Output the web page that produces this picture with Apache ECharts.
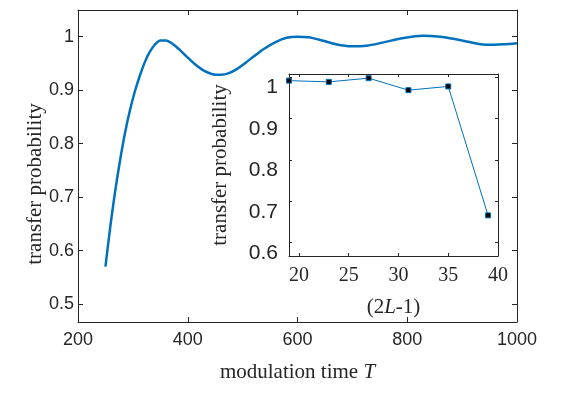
<!DOCTYPE html>
<html>
<head>
<meta charset="utf-8">
<title>transfer probability</title>
<script src="https://cdn.jsdelivr.net/npm/echarts@6/dist/echarts.min.js"></script>
<style>
    html, body { margin: 0; padding: 0; background: #fff; }
    #chart1 { width: 576px; height: 396px; }
</style>
</head>
<body>
<div id="chart1"></div>
<script>
    // main curve: modulation time T -> transfer probability
    var timeT = [250, 259, 268, 277, 286, 295, 304, 313, 322, 331, 340, 350, 360, 372, 386, 400, 415, 430, 445, 460,
                 475, 490, 505, 520, 540, 560, 580, 600, 620, 645, 670, 698, 725, 755, 790, 828, 860, 895, 944, 975, 1000];
    var probT = [0.570, 0.646, 0.713, 0.771, 0.822, 0.864, 0.899, 0.928, 0.953, 0.972, 0.985, 0.993, 0.993, 0.987, 0.975, 0.961, 0.947, 0.936, 0.930, 0.929,
                 0.932, 0.940, 0.951, 0.963, 0.978, 0.990, 0.998, 1.000, 0.999, 0.993, 0.986, 0.982, 0.983, 0.989, 0.997, 1.002, 1.000, 0.994, 0.985, 0.986, 0.988];

    // inset: (2L-1) -> transfer probability
    var sizeL = [19, 23, 27, 31, 35, 39];
    var probL = [0.991, 0.988, 0.997, 0.968, 0.977, 0.666];

    // tick values
    var mainXTicks = [200, 400, 600, 800, 1000];
    var mainYTicks = [0.5, 0.6, 0.7, 0.8, 0.9, 1];
    var insetXTicks = [20, 25, 30, 35, 40];
    var insetYTicks = [0.6, 0.7, 0.8, 0.9, 1];

    var ink = '#262626';
    var blue = '#0072BD';
    var sans = 'Liberation Sans';
    var serif = 'Liberation Serif';

    function zip(xs, ys) {
        return xs.map(function (x, i) { return [x, ys[i]]; });
    }

    // box axis helper (matlab look: ticks inside, on all four sides)
    function boxAxis(opt, ticks, tickLen, showLabel, labelStyle) {
        var a = {
            type: 'value',
            splitLine: { show: false },
            axisLine: { show: true, onZero: false, lineStyle: { color: ink, width: 1 } },
            axisTick: { show: true, inside: true, length: tickLen, customValues: ticks, lineStyle: { color: ink } },
            axisLabel: showLabel ? Object.assign({
                customValues: ticks, color: ink,
                formatter: function (v) { return String(v); }
            }, labelStyle) : { show: false }
        };
        return Object.assign(a, opt);
    }

    var myChart1 = echarts.init(document.getElementById('chart1'));

    var mainLabel = { fontFamily: sans, fontSize: 18, margin: 4 };
    var mainXLabel = { fontFamily: sans, fontSize: 18, margin: 9 };
    var insetXLabel = { fontFamily: serif, fontSize: 20, margin: 10 };
    var insetYLabel = { fontFamily: sans, fontSize: 21, margin: 11, verticalAlign: 'top' };

    var nameStyle = {
        fontFamily: serif, fontSize: 21, color: ink,
        rich: { i: { fontFamily: serif, fontSize: 21, fontStyle: 'italic', color: ink } }
    };

    myChart1.setOption({
        animation: false,
        grid: [
            { left: 78, right: 59, top: 10, bottom: 74 },
            { left: 289, right: 78, top: 74, bottom: 140, show: true, backgroundColor: '#fff', borderWidth: 0 }
        ],
        xAxis: [
            boxAxis({
                gridIndex: 0, position: 'bottom', min: 200, max: 1000,
                name: 'modulation time {i|T}', nameLocation: 'middle', nameGap: 40,
                nameTextStyle: nameStyle
            }, mainXTicks, 5, true, mainXLabel),
            boxAxis({ gridIndex: 0, position: 'top', min: 200, max: 1000 }, mainXTicks, 5, false),
            boxAxis({
                gridIndex: 1, position: 'bottom', min: 19, max: 40,
                name: '(2{i|L}-1)', nameLocation: 'middle', nameGap: 41,
                nameTextStyle: nameStyle
            }, insetXTicks, 3, true, insetXLabel),
            boxAxis({ gridIndex: 1, position: 'top', min: 19, max: 40 }, insetXTicks, 3, false)
        ],
        yAxis: [
            boxAxis({
                gridIndex: 0, position: 'left', min: 0.4665, max: 1.05,
                name: 'transfer probability', nameLocation: 'middle', nameGap: 32,
                nameMoveOverlap: false,
                nameTextStyle: { fontFamily: serif, fontSize: 21, color: ink, padding: [0, 36, 0, 0] }
            }, mainYTicks, 5, true, mainLabel),
            boxAxis({ gridIndex: 0, position: 'right', min: 0.4665, max: 1.05 }, mainYTicks, 5, false),
            boxAxis({
                gridIndex: 1, position: 'left', min: 0.568, max: 1.007,
                name: 'transfer probability', nameLocation: 'middle', nameGap: 58,
                nameTextStyle: { fontFamily: serif, fontSize: 21, color: ink }
            }, insetYTicks, 3, true, insetYLabel),
            boxAxis({ gridIndex: 1, position: 'right', min: 0.568, max: 1.007 }, insetYTicks, 3, false)
        ],
        series: [
            {
                type: 'line',
                xAxisIndex: 0, yAxisIndex: 0,
                data: zip(timeT, probT),
                showSymbol: false,
                smooth: 0.3,
                lineStyle: { color: blue, width: 2.5 }
            },
            {
                type: 'line',
                xAxisIndex: 2, yAxisIndex: 2,
                data: zip(sizeL, probL),
                symbol: 'rect',
                symbolSize: 5,
                itemStyle: { color: '#000', borderColor: blue, borderWidth: 1 },
                lineStyle: { color: blue, width: 1 },
                z: 5
            }
        ]
    });
</script>
</body>
</html>
